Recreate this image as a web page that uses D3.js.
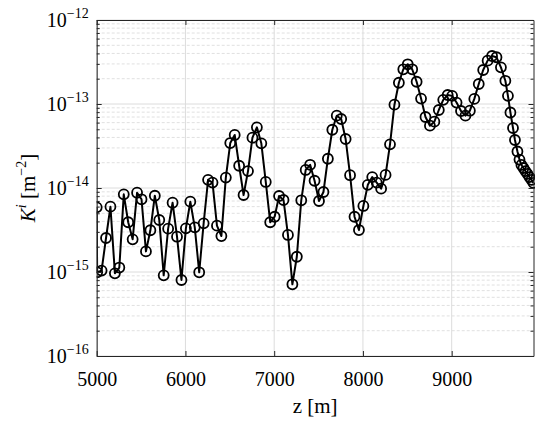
<!DOCTYPE html>
<html>
<head>
<meta charset="utf-8">
<script src="https://cdn.jsdelivr.net/npm/d3@7"></script>
</head>
<body style="margin:0;padding:0;background:#fff">
<svg id="chart" width="535" height="422" style="display:block"></svg>
<script>
// ---- data ----
const zValues = [
  5000, 5005, 5055, 5105, 5155, 5205, 5255, 5305, 5355, 5405,
  5455, 5505, 5555, 5605, 5655, 5705, 5755, 5805, 5855, 5905,
  5955, 6005, 6055, 6105, 6155, 6205, 6255, 6305, 6355, 6405,
  6455, 6505, 6555, 6605, 6655, 6705, 6755, 6805, 6855, 6905,
  6955, 7005, 7055, 7105, 7155, 7205, 7255, 7305, 7355, 7405,
  7455, 7505, 7555, 7605, 7655, 7705, 7755, 7805, 7855, 7905,
  7955, 8005, 8055, 8105, 8155, 8205, 8255, 8305, 8355, 8405,
  8455, 8505, 8555, 8605, 8655, 8705, 8755, 8805, 8855, 8905,
  8955, 9005, 9055, 9105, 9155, 9205, 9255, 9305, 9355, 9405,
  9455, 9505, 9555, 9605, 9634, 9662, 9691, 9713, 9741, 9764,
  9786, 9809, 9831, 9854, 9876, 9899, 9921
];
const kValues = [
  5.89e-15, 9.92e-16, 1.04e-15, 2.54e-15, 5.99e-15, 9.65e-16, 1.13e-15, 8.41e-15, 3.91e-15, 2.45e-15,
  8.79e-15, 7.34e-15, 1.76e-15, 3.14e-15, 8.09e-15, 4.16e-15, 9.13e-16, 3.28e-15, 6.68e-15, 2.63e-15,
  8.03e-16, 3.31e-15, 6.87e-15, 3.40e-15, 9.92e-16, 3.80e-15, 1.25e-14, 1.16e-14, 3.56e-15, 2.68e-15,
  1.33e-14, 3.43e-14, 4.28e-14, 1.84e-14, 8.25e-15, 1.59e-14, 3.97e-14, 5.28e-14, 3.40e-14, 1.18e-14,
  3.91e-15, 4.55e-15, 8.03e-15, 7.20e-15, 2.76e-15, 7.14e-16, 1.52e-15, 7.14e-15, 1.64e-14, 1.89e-14,
  1.22e-14, 7.00e-15, 8.96e-15, 2.23e-14, 4.94e-14, 7.26e-14, 6.63e-14, 3.83e-14, 1.42e-14, 4.55e-15,
  3.16e-15, 6.11e-15, 1.09e-14, 1.35e-14, 1.16e-14, 9.81e-15, 1.43e-14, 3.31e-14, 9.81e-14, 1.79e-13,
  2.59e-13, 2.97e-13, 2.59e-13, 1.84e-13, 1.16e-13, 7.00e-14, 5.52e-14, 6.16e-14, 8.48e-14, 1.12e-13,
  1.28e-13, 1.25e-13, 1.04e-13, 8.25e-14, 7.26e-14, 8.32e-14, 1.15e-13, 1.73e-13, 2.54e-13, 3.28e-13,
  3.73e-13, 3.60e-13, 2.73e-13, 1.89e-13, 1.25e-13, 7.92e-14, 5.18e-14, 3.73e-14, 2.72e-14, 2.18e-14,
  1.88e-14, 1.73e-14, 1.59e-14, 1.47e-14, 1.35e-14, 1.25e-14, 1.15e-14
];
const xTicks = [5000, 6000, 7000, 8000, 9000];
const xTickLabels = ["5000", "6000", "7000", "8000", "9000"];
const yDecades = [1e-16, 1e-15, 1e-14, 1e-13, 1e-12];
const yTickExponents = ["\u221216", "\u221215", "\u221214", "\u221213", "\u221212"];
const xDomain = [5000, 9922];
const yDomain = [1e-16, 1e-12];

// ---- layout ----
const FONT = '"Liberation Serif"';
const L = 96.7, R = 533.5, T = 20, B = 356;
const svg = d3.select("#chart");
const x = d3.scaleLinear().domain(xDomain).range([L, R]);
const y = d3.scaleLog().domain(yDomain).range([B, T]);

const minorY = [];
for (let e = -16; e < -12; e++) {
  for (let m = 2; m <= 9; m++) minorY.push(m * Math.pow(10, e));
}

// grid
const grid = svg.append("g");
grid.selectAll("line.ymin").data(minorY).join("line")
  .attr("x1", L).attr("x2", R)
  .attr("y1", d => y(d)).attr("y2", d => y(d))
  .attr("stroke", "#e0e0e0").attr("stroke-width", 1)
  .attr("stroke-dasharray", "3,2");
grid.selectAll("line.ymaj").data(yDecades).join("line")
  .attr("x1", L).attr("x2", R)
  .attr("y1", d => y(d)).attr("y2", d => y(d))
  .attr("stroke", "#dcdcdc").attr("stroke-width", 1);
grid.selectAll("line.xmaj").data(xTicks).join("line")
  .attr("x1", d => x(d)).attr("x2", d => x(d))
  .attr("y1", T).attr("y2", B)
  .attr("stroke", "#dcdcdc").attr("stroke-width", 1);

// clip
svg.append("clipPath").attr("id", "clip").append("rect")
  .attr("x", L).attr("y", T).attr("width", R - L + 6).attr("height", B - T);

const plot = svg.append("g").attr("clip-path", "url(#clip)");
const pts = zValues.map((z, i) => [z, kValues[i]]);
plot.append("path")
  .datum(pts)
  .attr("fill", "none")
  .attr("stroke", "#000")
  .attr("stroke-width", 2)
  .attr("stroke-linejoin", "round")
  .attr("d", d3.line().x(d => x(d[0])).y(d => y(d[1])));
plot.selectAll("circle").data(pts).join("circle")
  .attr("cx", d => x(d[0])).attr("cy", d => y(d[1]))
  .attr("r", 5)
  .attr("fill", "none")
  .attr("stroke", "#000")
  .attr("stroke-width", 1.8);

// axes
const axisColor = "#262626";
function styleAxis(g) {
  g.attr("font-family", FONT);
  g.select(".domain").attr("stroke", axisColor).attr("stroke-width", 1);
  g.selectAll(".tick line").attr("stroke", axisColor).attr("stroke-width", 1);
}
const xAxis = svg.append("g").attr("transform", `translate(0,${B})`)
  .call(d3.axisBottom(x).tickValues(xTicks)
    .tickFormat((d, i) => xTickLabels[i])
    .tickSizeInner(-5).tickSizeOuter(0).tickPadding(15.5));
styleAxis(xAxis);
xAxis.attr("font-size", 20);
xAxis.selectAll("text")
  .style("font-family", FONT).style("font-size", "20px").attr("fill", "#000");

const xTop = svg.append("g").attr("transform", `translate(0,${T})`)
  .call(d3.axisTop(x).tickValues(xTicks).tickFormat("").tickSizeInner(-5).tickSizeOuter(0));
styleAxis(xTop);

const yAxis = svg.append("g").attr("transform", `translate(${L},0)`)
  .call(d3.axisLeft(y).tickValues(yDecades).tickFormat("").tickSizeInner(-5).tickSizeOuter(0));
styleAxis(yAxis);
const yMinorAxis = svg.append("g").attr("transform", `translate(${L},0)`)
  .call(d3.axisLeft(y).tickValues(minorY).tickFormat("").tickSizeInner(-3).tickSizeOuter(0));
styleAxis(yMinorAxis);
yMinorAxis.select(".domain").remove();

const yRight = svg.append("g").attr("transform", `translate(${R},0)`)
  .call(d3.axisRight(y).tickValues(yDecades).tickFormat("").tickSizeInner(-5).tickSizeOuter(0));
styleAxis(yRight);
const yRightMinor = svg.append("g").attr("transform", `translate(${R},0)`)
  .call(d3.axisRight(y).tickValues(minorY).tickFormat("").tickSizeInner(-3).tickSizeOuter(0));
styleAxis(yRightMinor);
yRightMinor.select(".domain").remove();

// y tick labels with superscripts
const yl = svg.append("g");
yDecades.forEach((d, i) => {
  const t = yl.append("text")
    .attr("x", L - 8).attr("y", y(d) + 7)
    .attr("text-anchor", "end")
    .style("font-family", FONT).style("font-size", "20px");
  t.append("tspan").text("10");
  t.append("tspan").attr("dy", -9).style("font-size", "14px").text(yTickExponents[i]);
});

// axis labels
svg.append("text")
  .attr("x", (L + R) / 2).attr("y", 413)
  .attr("text-anchor", "middle")
  .style("font-family", FONT).style("font-size", "21px")
  .text("z [m]");

const ylab = svg.append("text")
  .attr("transform", `translate(35,${(T + B) / 2}) rotate(-90)`)
  .attr("text-anchor", "middle")
  .style("font-family", FONT).style("font-size", "21px");
ylab.append("tspan").style("font-style", "italic").text("K");
ylab.append("tspan").style("font-style", "italic").style("font-size", "14px").attr("dy", -9).text("i");
ylab.append("tspan").attr("dy", 9).text(" [m");
ylab.append("tspan").style("font-size", "14px").attr("dy", -9).text("\u22122");
ylab.append("tspan").attr("dy", 9).text("]");
</script>
</body>
</html>
